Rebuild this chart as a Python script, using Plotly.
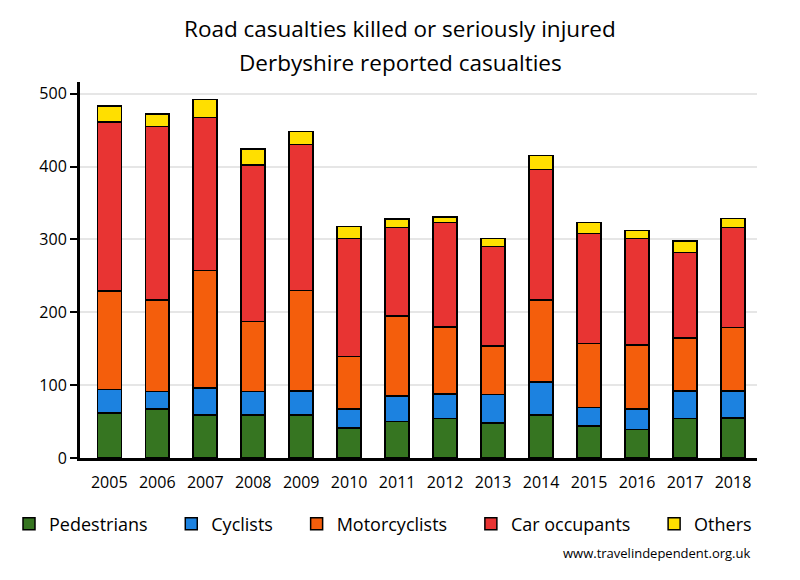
import plotly.graph_objects as go

years = ["2005", "2006", "2007", "2008", "2009", "2010", "2011", "2012", "2013", "2014", "2015", "2016", "2017", "2018"]
pedestrians = [62, 67, 59, 59, 59, 41, 50, 54, 48, 59, 44, 39, 54, 55]
cyclists = [32, 24, 37, 32, 33, 26, 35, 34, 39, 45, 25, 28, 38, 37]
motorcyclists = [135, 126, 161, 96, 138, 72, 110, 92, 67, 113, 88, 88, 73, 87]
car_occupants = [232, 238, 210, 215, 200, 162, 121, 143, 136, 179, 151, 146, 117, 137]
others = [22, 17, 25, 22, 18, 17, 12, 8, 11, 19, 15, 11, 16, 13]

series = [
    ("Pedestrians", pedestrians, "#367521"),
    ("Cyclists", cyclists, "#1c82e0"),
    ("Motorcyclists", motorcyclists, "#f45e0c"),
    ("Car occupants", car_occupants, "#e83433"),
    ("Others", others, "#ffdf00"),
]

FONT = "Open Sans"
# page has an 8px body margin: figure is drawn at (8, 8)
OFF = 8
W, H = 800 - OFF, 580 - OFF
# target page-pixel plot box
PL, PR, PT, PB = 80, 757, 82, 458
ml, mr, mt, mb = PL - OFF, W - (PR - OFF), PT - OFF, H - (PB - OFF)
pw, ph = W - ml - mr, H - mt - mb

def px_to_paper(x, y):
    return (x - OFF - ml) / pw, (H - mb - (y - OFF)) / ph

NB = "\u00a0" * 4

fig = go.Figure()
for name, vals, col in series:
    fig.add_trace(go.Bar(
        x=list(range(len(years))), y=vals, name=name + (NB if name != "Others" else ""),
        marker=dict(color=col, line=dict(color="black", width=1.5)),
    ))

t1 = px_to_paper(400, 28)
t2 = px_to_paper(400, 62)
ft = px_to_paper(752, 553)
lg = px_to_paper(9, 524)

fig.update_layout(
    barmode="stack",
    bargap=0.5,
    width=W, height=H,
    paper_bgcolor="white", plot_bgcolor="white",
    margin=dict(l=ml, r=mr, t=mt, b=mb, autoexpand=False),
    font=dict(family=FONT, size=16, color="black"),
    showlegend=True,
    legend=dict(orientation="h", xref="paper", yref="paper",
                x=lg[0], xanchor="left",
                y=lg[1], yanchor="middle",
                font=dict(size=18, family=FONT),
                traceorder="normal", itemwidth=30),
    xaxis=dict(
        tickmode="array", tickvals=list(range(len(years))), ticktext=years,
        range=[-0.61, 13.5], showgrid=False, zeroline=False,
        showline=True, linecolor="black", linewidth=3, ticks="",
        tickfont=dict(size=16), ticklabelstandoff=8, fixedrange=True,
    ),
    yaxis=dict(
        range=[0, 516], tickvals=[0, 100, 200, 300, 400, 500],
        showgrid=True, gridcolor="#e6e6e6", gridwidth=2,
        zeroline=False, showline=True, linecolor="black", linewidth=3,
        ticks="outside", ticklen=7, tickwidth=2, tickcolor="black",
        tickfont=dict(size=16),
    ),
    annotations=[
        dict(text="Road casualties killed or seriously injured", x=t1[0], y=t1[1],
             xref="paper", yref="paper", showarrow=False, yanchor="middle",
             font=dict(size=22.5)),
        dict(text="Derbyshire reported casualties", x=t2[0], y=t2[1],
             xref="paper", yref="paper", showarrow=False, yanchor="middle",
             font=dict(size=22.5)),
        dict(text="www.travelindependent.org.uk", x=ft[0], y=ft[1],
             xref="paper", yref="paper", showarrow=False, xanchor="right",
             yanchor="middle", font=dict(size=13)),
    ],
)

fig.write_html("out.html")
